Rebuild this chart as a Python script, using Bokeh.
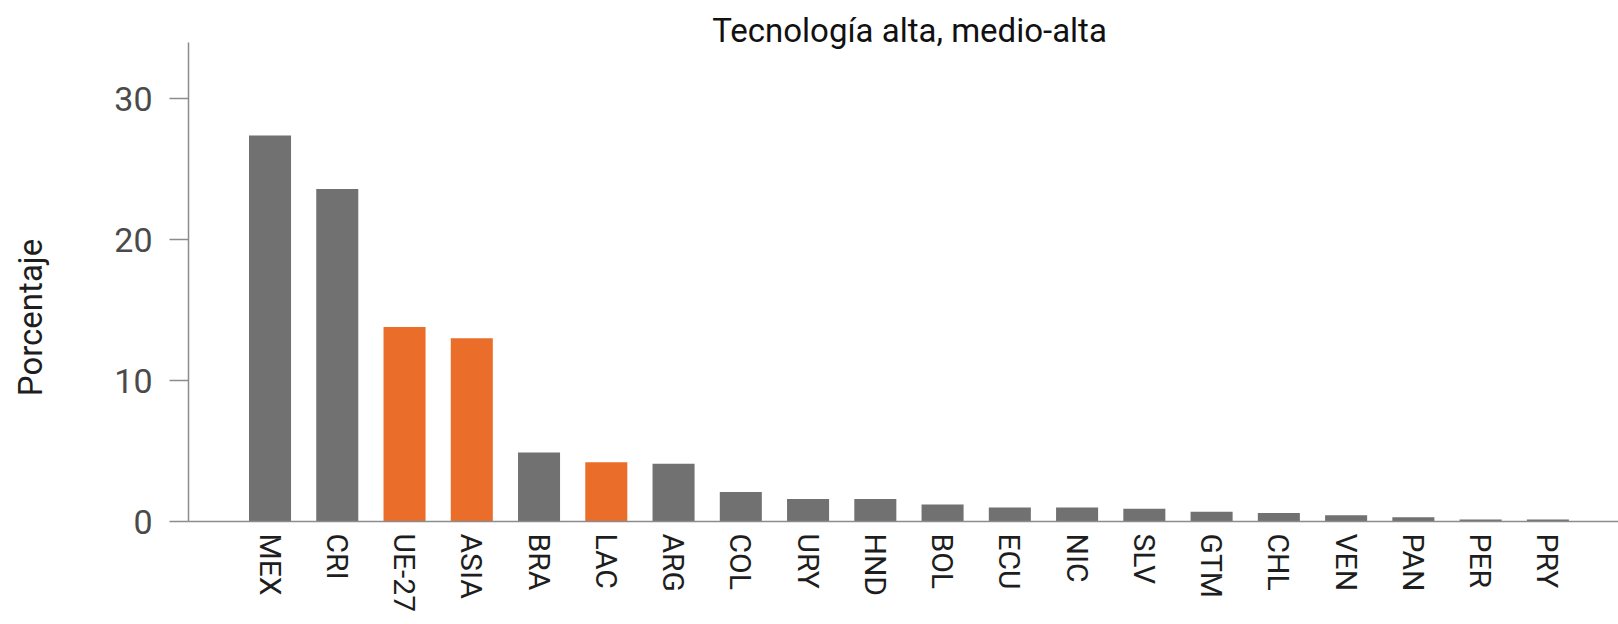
import math
from bokeh.plotting import figure
from bokeh.layouts import row
from bokeh.models import ColumnDataSource, Range1d, FixedTicker, Label
from bokeh.embed import file_html
from bokeh.resources import INLINE

# ---- data ----
categories = ["MEX", "CRI", "UE-27", "ASIA", "BRA", "LAC", "ARG", "COL", "URY", "HND",
              "BOL", "ECU", "NIC", "SLV", "GTM", "CHL", "VEN", "PAN", "PER", "PRY"]
values = [27.4, 23.6, 13.8, 13.0, 4.9, 4.2, 4.1, 2.1, 1.6, 1.6,
          1.2, 1.0, 1.0, 0.9, 0.7, 0.6, 0.45, 0.3, 0.15, 0.15]
aggregates = ["UE-27", "ASIA", "LAC"]
y_ticks = [0, 10, 20, 30]
title_text = "Tecnología alta, medio-alta"
y_label_text = "Porcentaje"

GRAY = "#717171"
ORANGE = "#EA6E2A"
FONT = "Roboto"
H = 620
LABEL_W = 60

xs = list(range(len(categories)))
colors = [ORANGE if c in aggregates else GRAY for c in categories]
src = ColumnDataSource(dict(x=xs, top=values, color=colors, cat=categories))

p = figure(frame_width=1430, frame_height=513, output_backend="svg",
           toolbar_location=None,
           x_range=Range1d(-1.212, 20.05), y_range=Range1d(0, 36.41),
           min_border_left=188 - LABEL_W, min_border_right=0, min_border_top=8,
           min_border_bottom=H - 8 - 513)
p.outline_line_color = None
p.background_fill_color = "white"
p.border_fill_color = "white"
p.xgrid.visible = False
p.ygrid.visible = False

p.vbar(x="x", top="top", width=0.625, bottom=0, fill_color="color",
       line_color=None, source=src)

# x axis
xa = p.xaxis[0]
xa.ticker = FixedTicker(ticks=xs)
xa.major_label_overrides = {i: c for i, c in zip(xs, categories)}
xa.major_label_orientation = "vertical"
xa.major_tick_out = 0
xa.major_tick_in = 0
xa.minor_tick_line_color = None
xa.axis_line_color = "#8c8c8c"
xa.axis_line_width = 1.5
xa.major_label_standoff = 12
xa.major_label_text_font = FONT
xa.major_label_text_font_size = "30px"
xa.major_label_text_color = "#1e1e1e"

# y axis
ya = p.yaxis[0]
ya.ticker = FixedTicker(ticks=y_ticks)
ya.bounds = (0, 34)
ya.major_tick_out = 19
ya.major_tick_in = 0
ya.minor_tick_line_color = None
ya.axis_line_color = "#8c8c8c"
ya.axis_line_width = 1.5
ya.major_tick_line_color = "#8c8c8c"
ya.major_tick_line_width = 1.5
ya.major_label_standoff = 17
ya.major_label_text_font = FONT
ya.major_label_text_font_size = "34px"
ya.major_label_text_color = "#4a4a4a"

# chart title inside the top of the frame
p.add_layout(Label(x=721, y=491, x_units="screen", y_units="screen",
                   text=title_text, text_font=FONT, text_font_size="33px",
                   text_color="#111111", text_align="center",
                   text_baseline="alphabetic"))

# narrow strip on the left that carries the rotated y-axis title
# (its frame is aligned with the main frame: 513 px tall, bottom at y=0 of the data)
lab = figure(width=LABEL_W, height=H, output_backend="svg", toolbar_location=None,
             x_axis_location=None, y_axis_location=None,
             x_range=Range1d(0, 1), y_range=Range1d(0, 1),
             min_border=0)
lab.outline_line_color = None
lab.xgrid.visible = False
lab.ygrid.visible = False
lab.border_fill_color = "white"
lab.add_layout(Label(x=30, y=204, x_units="screen", y_units="screen",
                     text=y_label_text, text_font=FONT, text_font_size="33px",
                     text_color="#1e1e1e", text_align="center",
                     text_baseline="middle", angle=math.pi / 2))

layout = row(lab, p, spacing=0)
open("out.html", "w").write(file_html(layout, INLINE))
